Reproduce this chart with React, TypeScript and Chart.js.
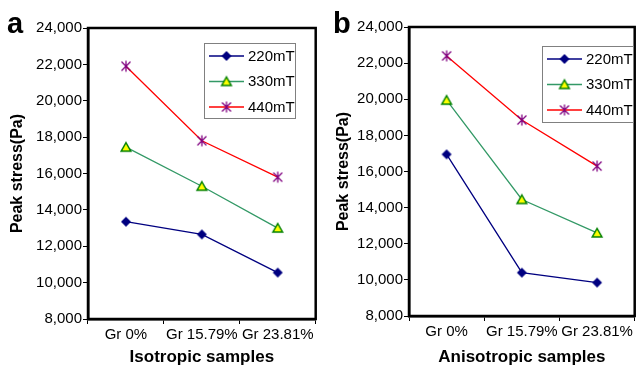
import React, { useEffect, useRef } from 'react';
import { Chart, registerables } from 'chart.js';

Chart.register(...registerables);

// ---- data ----
const categories = ['Gr 0%', 'Gr 15.79%', 'Gr 23.81%'];
const fieldLabels = ['220mT', '330mT', '440mT'];

const isotropic220 = [13350, 12650, 10550];
const isotropic330 = [17450, 15300, 13000];
const isotropic440 = [21900, 17800, 15800];

const anisotropic220 = [16950, 10400, 9850];
const anisotropic330 = [19950, 14450, 12600];
const anisotropic440 = [22400, 18850, 16300];

const yMin = 8000;
const yMax = 24000;
const yStep = 2000;

const FONT = '"Liberation Sans", Arial, Helvetica, sans-serif';

type MarkerKind = 'diamond' | 'triangle' | 'star';

const seriesStyles: { line: string; marker: MarkerKind }[] = [
  { line: '#000080', marker: 'diamond' },
  { line: '#339966', marker: 'triangle' },
  { line: '#ff0000', marker: 'star' },
];

// Small offscreen canvases used as point styles and legend symbols.
function makeMarker(kind: MarkerKind): HTMLCanvasElement {
  const c = document.createElement('canvas');
  c.width = 14;
  c.height = 14;
  const g = c.getContext('2d')!;
  const m = 7;
  if (kind === 'diamond') {
    g.fillStyle = '#000080';
    g.beginPath();
    g.moveTo(m, m - 5);
    g.lineTo(m + 5, m);
    g.lineTo(m, m + 5);
    g.lineTo(m - 5, m);
    g.closePath();
    g.fill();
  } else if (kind === 'triangle') {
    g.fillStyle = '#ffff00';
    g.strokeStyle = '#008000';
    g.lineWidth = 1.5;
    g.beginPath();
    g.moveTo(m, m - 4.5);
    g.lineTo(m + 4.8, m + 4);
    g.lineTo(m - 4.8, m + 4);
    g.closePath();
    g.fill();
    g.stroke();
  } else {
    g.strokeStyle = '#800080';
    g.lineWidth = 1.3;
    g.beginPath();
    g.moveTo(m, m - 5.5);
    g.lineTo(m, m + 5.5);
    g.moveTo(m - 4.5, m - 4.5);
    g.lineTo(m + 4.5, m + 4.5);
    g.moveTo(m + 4.5, m - 4.5);
    g.lineTo(m - 4.5, m + 4.5);
    g.stroke();
  }
  return c;
}

interface PanelProps {
  letter: string;
  letterX: number;
  xTitle: string;
  series: number[][];
  left: number;
  width: number;
  areaTop: number;
  areaLeft: number;
  areaRight: number;
  areaBottom: number;
  yTitlePad: number;
  legendBox: { left: number; top: number; width: number; height: number };
}

const HEIGHT = 366;

function Panel(p: PanelProps) {
  const ref = useRef<HTMLCanvasElement>(null);

  useEffect(() => {
    const canvas = ref.current;
    if (!canvas) return;
    const markers = seriesStyles.map((s) => makeMarker(s.marker));

    const frameAndLegend = {
      id: 'frameAndLegend',
      afterDraw(chart: any) {
        const { ctx, chartArea: a } = chart;
        ctx.save();
        // closed plot frame
        ctx.strokeStyle = '#000';
        ctx.lineWidth = 2.5;
        ctx.strokeRect(a.left, a.top, a.right - a.left, a.bottom - a.top);

        // legend box inside the plot
        const lb = p.legendBox;
        ctx.fillStyle = '#fff';
        ctx.fillRect(lb.left, lb.top, lb.width, lb.height);
        ctx.strokeStyle = '#808080';
        ctx.lineWidth = 1;
        ctx.strokeRect(lb.left + 0.5, lb.top + 0.5, lb.width, lb.height);
        chart.data.datasets.forEach((ds: any, i: number) => {
          const cy = lb.top + 13 + i * 25.5;
          ctx.strokeStyle = ds.borderColor;
          ctx.lineWidth = 1.3;
          ctx.beginPath();
          ctx.moveTo(lb.left + 5, cy);
          ctx.lineTo(lb.left + 40, cy);
          ctx.stroke();
          ctx.drawImage(markers[i], lb.left + 22.5 - 7, cy - 7);
          ctx.fillStyle = '#000';
          ctx.font = `15px ${FONT}`;
          ctx.textAlign = 'left';
          ctx.textBaseline = 'middle';
          ctx.fillText(ds.label, lb.left + 44, cy + 0.5);
        });

        // panel letter
        ctx.fillStyle = '#000';
        ctx.font = `bold 29px ${FONT}`;
        ctx.textAlign = 'left';
        ctx.textBaseline = 'alphabetic';
        ctx.fillText(p.letter, p.letterX, 33);
        ctx.restore();
      },
    };

    const chart = new Chart(canvas, {
      type: 'line',
      data: {
        labels: categories,
        datasets: p.series.map((values, i) => ({
          label: fieldLabels[i],
          data: values,
          borderColor: seriesStyles[i].line,
          backgroundColor: seriesStyles[i].line,
          borderWidth: 1.3,
          pointStyle: markers[i] as any,
          pointRadius: 5,
          tension: 0,
          fill: false,
        })),
      },
      options: {
        responsive: false,
        animation: false,
        devicePixelRatio: 1,
        layout: {
          padding: {
            top: p.areaTop,
            left: 0,
            right: p.width - p.areaRight,
            bottom: 0,
          },
        },
        plugins: {
          legend: { display: false },
          tooltip: { enabled: false },
        },
        scales: {
          x: {
            type: 'category',
            offset: true,
            afterFit(scale: any) {
              scale.height = HEIGHT - p.areaBottom;
            },
            grid: {
              offset: true,
              drawOnChartArea: false,
              drawTicks: true,
              tickLength: 5,
              color: '#000',
              lineWidth: 1,
            },
            border: { display: true, color: '#000', width: 2.5 },
            ticks: {
              color: '#000',
              font: { family: FONT, size: 15 },
              padding: 2,
              maxRotation: 0,
              autoSkip: false,
            },
            title: {
              display: true,
              text: p.xTitle,
              color: '#000',
              font: { family: FONT, size: 17, weight: 'bold' },
              padding: { top: 0, bottom: -2 },
            },
          },
          y: {
            min: yMin,
            max: yMax,
            afterFit(scale: any) {
              scale.width = p.areaLeft;
            },
            grid: {
              drawOnChartArea: false,
              drawTicks: true,
              tickLength: 5,
              color: '#000',
              lineWidth: 1,
            },
            border: { display: true, color: '#000', width: 2.5 },
            ticks: {
              stepSize: yStep,
              color: '#000',
              font: { family: FONT, size: 15 },
              padding: 1,
              callback: (v: any) => Number(v).toLocaleString('en-US'),
            },
            title: {
              display: true,
              text: 'Peak stress(Pa)',
              color: '#000',
              font: { family: FONT, size: 16, weight: 'bold' },
              padding: { top: p.yTitlePad, bottom: 0 },
            },
          },
        },
      },
      plugins: [frameAndLegend],
    } as any);

    return () => chart.destroy();
  }, []);

  return (
    <div style={{ position: 'absolute', left: p.left, top: 0, width: p.width, height: HEIGHT }}>
      <canvas ref={ref} width={p.width} height={HEIGHT} style={{ display: 'block' }} />
    </div>
  );
}

export default function App() {
  return (
    <div
      style={{
        position: 'fixed',
        left: 0,
        top: 0,
        width: 641,
        height: HEIGHT,
        background: '#fff',
        overflow: 'hidden',
      }}
    >
      <Panel
        letter="a"
        letterX={7}
        xTitle="Isotropic samples"
        series={[isotropic220, isotropic330, isotropic440]}
        left={0}
        width={322}
        areaTop={28}
        areaLeft={88}
        areaRight={319}
        areaBottom={319}
        yTitlePad={8}
        legendBox={{ left: 204, top: 43, width: 91, height: 75 }}
      />
      <Panel
        letter="b"
        letterX={11}
        xTitle="Anisotropic samples"
        series={[anisotropic220, anisotropic330, anisotropic440]}
        left={322}
        width={319}
        areaTop={27}
        areaLeft={87}
        areaRight={318}
        areaBottom={316}
        yTitlePad={12}
        legendBox={{ left: 220, top: 46, width: 91, height: 76 }}
      />
    </div>
  );
}
